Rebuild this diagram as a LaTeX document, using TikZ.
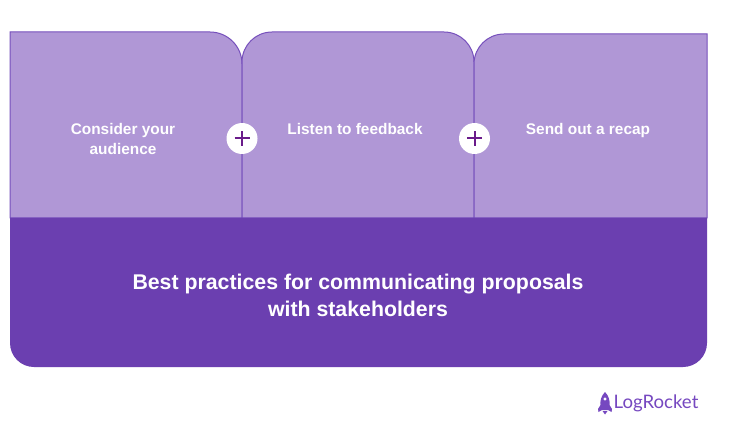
\documentclass[tikz,border=0pt]{standalone}
\usepackage{fontspec}
\setmainfont{Liberation Sans}
\newfontfamily\logofont{Lato}
\definecolor{lightpurple}{HTML}{B097D6}
\definecolor{darkpurple}{HTML}{6B3FB0}
\definecolor{edgepurple}{HTML}{7650BC}
\definecolor{pluspurple}{HTML}{6A1B8A}
\definecolor{logopurple}{HTML}{7648C0}
\tikzset{
	panel/.style={fill=lightpurple, draw=edgepurple, line width=1pt},
	base/.style={fill=darkpurple},
	title/.style={text=white, font=\bfseries\fontsize{15.4}{20}\selectfont, align=center},
	heading/.style={text=white, font=\bfseries\fontsize{21.3}{27}\selectfont, align=center},
	joiner/.style={circle, fill=white, inner sep=0pt, minimum size=31pt},
	plusbar/.style={draw=pluspurple, line width=2pt}
}
\begin{document}
\begin{tikzpicture}[x=1pt,y=-1pt]
\useasboundingbox (0,0) rectangle (730,438);
\fill[white] (0,0) rectangle (730,438);
% top row
\draw[panel] (10,218) -- (10,32) -- (210,32) arc[start angle=-90, end angle=0, radius=32] -- (242,218) -- cycle;
\draw[panel] (242,218) -- (242,62) arc[start angle=180, end angle=270, radius=30] -- (444,32) arc[start angle=-90, end angle=0, radius=30] -- (474,218) -- cycle;
\draw[panel] (474,218) -- (474,64) arc[start angle=180, end angle=270, radius=30] -- (707,34) -- (707,218) -- cycle;
% bottom band
\fill[base] (10,218) -- (707,218) -- (707,343) arc[start angle=0, end angle=90, radius=24] -- (34,367) arc[start angle=90, end angle=180, radius=24] -- cycle;
\node[title] (consider) at (123,139) {Consider your\\audience};
\node[title] (listen) at (355,128.5) {Listen to feedback};
\node[title] (recap) at (588,131) {Send out a recap};
\node[heading] (practices) at (358,295) {Best practices for communicating proposals\\with stakeholders};
% plus signs
\node[joiner] (plusa) at (242,138.5) {};
\node[joiner] (plusb) at (474.5,138.5) {};
\foreach \p in {plusa, plusb} {
	\draw[plusbar] ([xshift=-7.5pt]\p.center) -- ([xshift=7.5pt]\p.center);
	\draw[plusbar] ([yshift=-7.5pt]\p.center) -- ([yshift=7.5pt]\p.center);
}
% logo
\fill[logopurple, even odd rule] (605,392) .. controls (601,396) and (600,401) .. (600.5,405) -- (598,409) -- (598.5,412) -- (602,410) -- (608,410) -- (611.5,412) -- (612,409) -- (609.5,405) .. controls (610,401) and (609,396) .. (605,392) -- cycle
	(605,399) circle[radius=1.8];
\fill[logopurple] (602.5,411) -- (607.5,411) -- (605,414.5) -- cycle;
\node[text=logopurple, font=\logofont\fontsize{18.6}{20}\selectfont, anchor=west, inner sep=0pt] (logo) at (613.5,403) {LogRocket};
\end{tikzpicture}
\end{document}
